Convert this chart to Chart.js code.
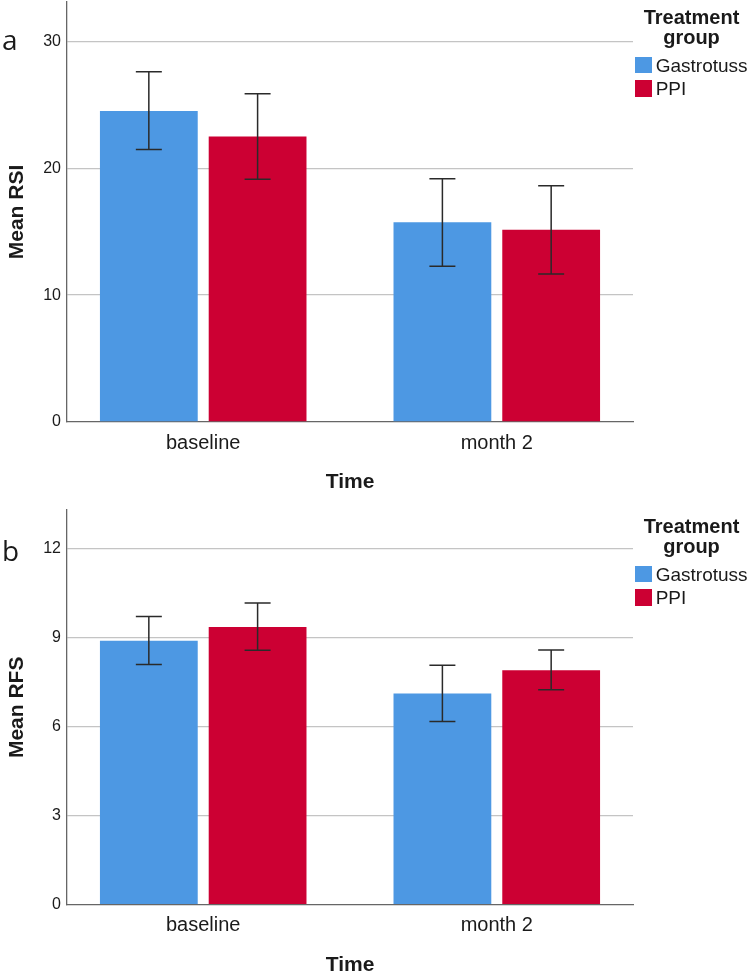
<!DOCTYPE html>
<html>
<head>
<meta charset="utf-8">
<script src="https://cdn.jsdelivr.net/npm/chart.js@4.4.0/dist/chart.umd.min.js"></script>
<style>
html,body{margin:0;padding:0;background:#fff;overflow:hidden;}
body{width:749px;height:973px;position:relative;font-family:"Liberation Sans",Arial,sans-serif;color:#1a1a1a;}
.panel{position:absolute;left:0;width:749px;}
.panel canvas{position:absolute;left:0;top:0;}
.letter{position:absolute;font-family:"Open Sans",sans-serif;font-size:28px;line-height:28px;color:#1a1a1a;}
.lg-title{position:absolute;left:634px;width:115px;text-align:center;font-weight:bold;font-size:20px;line-height:20px;color:#1a1a1a;}
.lg-items{position:absolute;left:635px;}
.lg-row{display:flex;align-items:center;height:16.7px;margin-bottom:6.6px;}
.lg-box{width:16.7px;height:16.7px;margin-right:4px;flex:none;}
.lg-text{font-size:19px;line-height:16.7px;position:relative;top:1.5px;white-space:nowrap;color:#1a1a1a;}
</style>
</head>
<body>
<div class="panel" style="top:0;height:493px;">
  <canvas id="chartA" width="749" height="493"></canvas>
  <div class="letter" style="left:2px;top:25px;">a</div>
  <div id="legendA"></div>
</div>
<div class="panel" style="top:506px;height:470px;">
  <canvas id="chartB" width="749" height="470"></canvas>
  <div class="letter" style="left:2px;top:30px;">b</div>
  <div id="legendB"></div>
</div>
<script>
// ---- data ----
const categories = ['baseline', 'month 2'];
const seriesNames = ['Gastrotuss', 'PPI'];
const legendTitle = 'Treatment group';
const xTitle = 'Time';

// Panel a: Mean RSI
const rsiGastrotuss = [24.5, 15.75];
const rsiPPI = [22.5, 15.15];
const rsiGastrotussLow = [21.47, 12.28];
const rsiGastrotussHigh = [27.6, 19.18];
const rsiPPILow = [19.13, 11.67];
const rsiPPIHigh = [25.87, 18.62];
const rsiTicks = [0, 10, 20, 30];
const rsiMax = 33.1;

// Panel b: Mean RFS
const rfsGastrotuss = [8.89, 7.12];
const rfsPPI = [9.36, 7.9];
const rfsGastrotussLow = [8.09, 6.17];
const rfsGastrotussHigh = [9.71, 8.07];
const rfsPPILow = [8.57, 7.24];
const rfsPPIHigh = [10.17, 8.58];
const rfsTicks = [0, 3, 6, 9, 12];
const rfsMax = 13.3;

// ---- styling ----
const FONT = "'Liberation Sans', Arial, sans-serif";
const colors = ['#4D98E3', '#CC0033'];
const textColor = '#1a1a1a';

const errorBarPlugin = {
  id: 'errorBars',
  afterDatasetsDraw(chart) {
    const ctx = chart.ctx;
    const y = chart.scales.y;
    chart.data.datasets.forEach((ds, di) => {
      const meta = chart.getDatasetMeta(di);
      meta.data.forEach((bar, i) => {
        const top = y.getPixelForValue(ds.errHigh[i]);
        const bot = y.getPixelForValue(ds.errLow[i]);
        const half = 13;
        ctx.save();
        ctx.strokeStyle = '#2a2a2a';
        ctx.lineWidth = 1.5;
        ctx.beginPath();
        ctx.moveTo(bar.x, top); ctx.lineTo(bar.x, bot);
        ctx.moveTo(bar.x - half, top); ctx.lineTo(bar.x + half, top);
        ctx.moveTo(bar.x - half, bot); ctx.lineTo(bar.x + half, bot);
        ctx.stroke();
        ctx.restore();
      });
    });
  }
};

function zeroPad(s) {
  s.paddingTop = 0; s.paddingBottom = 0; s.paddingLeft = 0; s.paddingRight = 0;
}

function makeChart(id, vals, lows, highs, yMax, yTicks, yTitle, padTop, padBottom) {
  const datasets = seriesNames.map((name, s) => ({
    label: name,
    data: vals[s].map((v, i) => ({x: i, y: v})),
    errLow: lows[s],
    errHigh: highs[s],
    backgroundColor: colors[s],
    borderWidth: 0,
    categoryPercentage: 0.741,
    barPercentage: 0.899
  }));
  return new Chart(document.getElementById(id), {
    type: 'bar',
    data: {datasets},
    plugins: [errorBarPlugin],
    options: {
      responsive: false,
      animation: false,
      layout: {padding: {top: padTop, right: 116, bottom: padBottom, left: 0}},
      plugins: {legend: {display: false}, tooltip: {enabled: false}},
      scales: {
        x: {
          type: 'linear',
          offset: false,
          min: -0.464,
          max: 1.464,
          afterBuildTicks: s => { s.ticks = categories.map((c, i) => ({value: i})); },
          afterFit: zeroPad,
          ticks: {
            callback: v => categories[v] !== undefined ? categories[v] : '',
            font: {family: FONT, size: 20}, color: textColor, padding: 9,
            maxRotation: 0, autoSkip: false
          },
          grid: {display: false, offset: false, drawTicks: false, tickLength: 0},
          border: {display: true, color: '#666666', width: 1.3},
          title: {display: true, text: xTitle, color: textColor,
            font: {family: FONT, size: 21, weight: 'bold', lineHeight: 1},
            padding: {top: 8, bottom: 0}}
        },
        y: {
          min: 0,
          max: yMax,
          afterBuildTicks: s => { s.ticks = yTicks.map(v => ({value: v})); },
          afterFit: s => { s.width = 67; zeroPad(s); },
          ticks: {font: {family: FONT, size: 16}, color: textColor, padding: 6},
          grid: {
            color: c => (c.tick && c.tick.value === 0) ? 'rgba(0,0,0,0)' : '#c4c4c4',
            lineWidth: 1.3, drawTicks: false, tickLength: 0
          },
          border: {display: true, color: '#666666', width: 1.3},
          title: {display: true, text: yTitle, color: textColor,
            font: {family: FONT, size: 21, weight: 'bold', lineHeight: 1.2},
            padding: {top: 4.4, bottom: 0}}
        }
      }
    }
  });
}

function buildLegend(chart, elId, offset) {
  const el = document.getElementById(elId);
  const t = document.createElement('div');
  t.className = 'lg-title';
  t.style.top = (7 + offset) + 'px';
  t.textContent = legendTitle;
  el.appendChild(t);
  const items = document.createElement('div');
  items.className = 'lg-items';
  items.style.top = (56.7 + offset) + 'px';
  chart.data.datasets.forEach(ds => {
    const row = document.createElement('div');
    row.className = 'lg-row';
    const box = document.createElement('div');
    box.className = 'lg-box';
    box.style.background = ds.backgroundColor;
    const txt = document.createElement('span');
    txt.className = 'lg-text';
    txt.textContent = ds.label;
    row.appendChild(box); row.appendChild(txt);
    items.appendChild(row);
  });
  el.appendChild(items);
}

const chartA = makeChart('chartA',
  [rsiGastrotuss, rsiPPI], [rsiGastrotussLow, rsiPPILow], [rsiGastrotussHigh, rsiPPIHigh],
  rsiMax, rsiTicks, 'Mean RSI', 2, 0);
const chartB = makeChart('chartB',
  [rfsGastrotuss, rfsPPI], [rfsGastrotussLow, rfsPPILow], [rfsGastrotussHigh, rfsPPIHigh],
  rfsMax, rfsTicks, 'Mean RFS', 4, 0.3);
buildLegend(chartA, 'legendA', 0);
buildLegend(chartB, 'legendB', 3);
</script>
</body>
</html>
